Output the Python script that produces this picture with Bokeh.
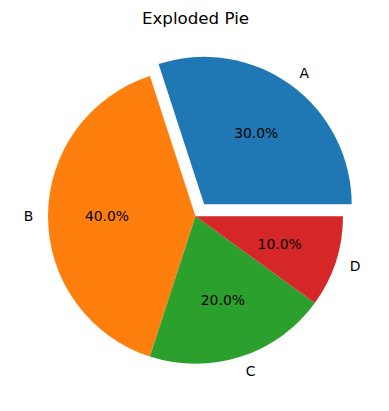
import numpy as np
from bokeh.plotting import figure
from bokeh.models import ColumnDataSource, Range1d
from bokeh.embed import file_html
from bokeh.resources import INLINE
from bokeh.core.properties import value

labels = ["A", "B", "C", "D"]
sizes = [30, 40, 20, 10]
explode = [0.1, 0, 0, 0]
colors = ["#1f77b4", "#ff7f0e", "#2ca02c", "#d62728"]
title = "Exploded Pie"

W, H = 389, 411
cx_px, cy_px, r_px = 195.0, 215.8, 147.5

p = figure(width=W, height=H, output_backend="svg", toolbar_location=None,
           min_border=0, x_axis_type=None, y_axis_type=None)
p.x_range = Range1d(-cx_px / r_px, (W - cx_px) / r_px)
p.y_range = Range1d(-(H - cy_px) / r_px, cy_px / r_px)
p.outline_line_color = None
p.grid.visible = False
p.background_fill_color = "white"
p.border_fill_color = "white"

total = float(sum(sizes))
fr = np.array(sizes) / total
ends = np.cumsum(fr) * 2 * np.pi
starts = ends - fr * 2 * np.pi
mids = (starts + ends) / 2
ex = np.array(explode)
cx = ex * np.cos(mids)
cy = ex * np.sin(mids)

src = ColumnDataSource(dict(x=cx, y=cy, start=starts, end=ends, color=colors))
p.wedge(x="x", y="y", radius=1.0, start_angle="start", end_angle="end",
        fill_color="color", line_color=None, source=src)

pct = ["%.1f%%" % (f * 100) for f in fr]
psrc = ColumnDataSource(dict(x=cx + 0.6 * np.cos(mids), y=cy + 0.6 * np.sin(mids), t=pct))
p.text(x="x", y="y", text="t", source=psrc, text_align="center", text_baseline="middle",
       text_font=value("DejaVu Sans"), text_font_size="13.9px", text_color="black")

lx = cx + 1.1 * np.cos(mids)
ly = cy + 1.1 * np.sin(mids)
align = ["left" if v > 0 else "right" for v in np.cos(mids)]
lsrc = ColumnDataSource(dict(x=lx, y=ly, t=labels, a=align))
p.text(x="x", y="y", text="t", source=lsrc, text_align="a", text_baseline="middle",
       text_font=value("DejaVu Sans"), text_font_size="13.9px", text_color="black")

p.text(x=[0.0], y=[(cy_px - 17) / r_px], text=[title], text_align="center",
       text_baseline="middle", text_font=value("DejaVu Sans"), text_font_size="16.7px",
       text_color="black")

open("out.html", "w").write(file_html(p, INLINE))
